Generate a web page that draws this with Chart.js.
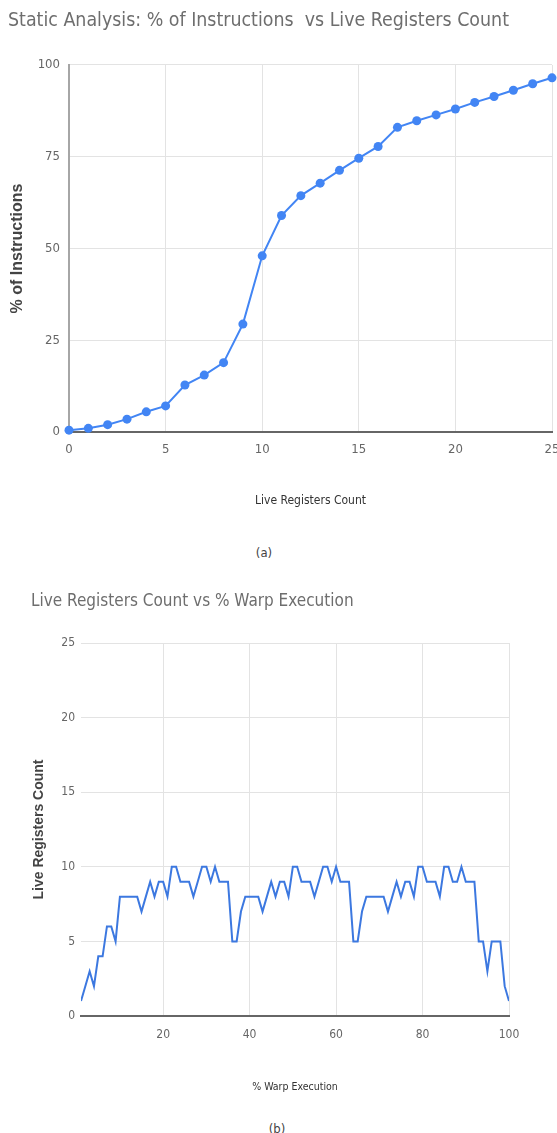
<!DOCTYPE html>
<html>
<head>
<meta charset="utf-8">
<script src="https://cdn.jsdelivr.net/npm/chart.js@4.4.1/dist/chart.umd.min.js"></script>
<style>
  html, body { margin: 0; padding: 0; background: #fff; overflow: hidden; width: 557px; height: 1133px; }
  canvas { position: absolute; left: 0; }
  #chartA { top: 0; }
  #chartB { top: 570px; }
  .caption {
    position: absolute;
    font-family: 'DejaVu Sans Condensed', sans-serif;
    font-size: 13px;
    color: #444;
    transform: translate(-50%, -50%);
  }
</style>
</head>
<body>
<canvas id="chartA" width="600" height="512"></canvas>
<div class="caption" style="left:264px; top:552px">(a)</div>
<canvas id="chartB" width="557" height="528"></canvas>
<div class="caption" style="left:277px; top:1128px">(b)</div>
<script>
// (a) static analysis
const registerCounts = [0, 1, 2, 3, 4, 5, 6, 7, 8, 9, 10, 11, 12, 13, 14, 15, 16, 17, 18, 19, 20, 21, 22, 23, 24, 25];
const instructionPct = [0.5, 1, 2, 3.5, 5.5, 7.1, 12.8, 15.5, 18.9, 29.4, 48, 59, 64.4, 67.8, 71.3, 74.6, 77.8, 83, 84.8, 86.4, 88, 89.8, 91.4, 93.1, 94.9, 96.5];
const instrXTicks = [0, 5, 10, 15, 20, 25];
const instrYTicks = [0, 25, 50, 75, 100];

// (b) live registers over warp execution
const warpPct = [
  1, 2, 3, 4, 5, 6, 7, 8, 9, 10,
  11, 12, 13, 14, 15, 16, 17, 18, 19, 20,
  21, 22, 23, 24, 25, 26, 27, 28, 29, 30,
  31, 32, 33, 34, 35, 36, 37, 38, 39, 40,
  41, 42, 43, 44, 45, 46, 47, 48, 49, 50,
  51, 52, 53, 54, 55, 56, 57, 58, 59, 60,
  61, 62, 63, 64, 65, 66, 67, 68, 69, 70,
  71, 72, 73, 74, 75, 76, 77, 78, 79, 80,
  81, 82, 83, 84, 85, 86, 87, 88, 89, 90,
  91, 92, 93, 94, 95, 96, 97, 98, 99, 100
];
const liveRegs = [
  1, 2, 3, 2, 4, 4, 6, 6, 5, 8,
  8, 8, 8, 8, 7, 8, 9, 8, 9, 9,
  8, 10, 10, 9, 9, 9, 8, 9, 10, 10,
  9, 10, 9, 9, 9, 5, 5, 7, 8, 8,
  8, 8, 7, 8, 9, 8, 9, 9, 8, 10,
  10, 9, 9, 9, 8, 9, 10, 10, 9, 10,
  9, 9, 9, 5, 5, 7, 8, 8, 8, 8,
  8, 7, 8, 9, 8, 9, 9, 8, 10, 10,
  9, 9, 9, 8, 10, 10, 9, 9, 10, 9,
  9, 9, 5, 5, 3, 5, 5, 5, 2, 1
];
const warpXTicks = [20, 40, 60, 80, 100];
const warpYTicks = [0, 5, 10, 15, 20, 25];

const NARROW = "'DejaVu Sans Condensed', sans-serif";
const WIDE = "'Liberation Sans', Arial, sans-serif";
const BLUE = '#4285f4';
const GRID = '#e3e3e3';

const setTicks = (values) => (scale) => {
  scale.ticks = values.map(v => ({ value: v }));
};

// Chart (a)
new Chart(document.getElementById('chartA'), {
  type: 'line',
  data: {
    datasets: [{
      data: registerCounts.map((x, i) => ({ x: x, y: instructionPct[i] })),
      borderColor: BLUE,
      backgroundColor: BLUE,
      borderWidth: 2,
      pointRadius: 4.5,
      pointBorderWidth: 0,
      pointBackgroundColor: BLUE,
      tension: 0,
      clip: false
    }]
  },
  options: {
    responsive: false,
    animation: false,
    devicePixelRatio: 1,
    layout: { padding: { left: 8, right: 48, top: 0, bottom: 0 } },
    plugins: {
      legend: { display: false },
      tooltip: { enabled: false },
      title: {
        display: true,
        text: 'Static Analysis: % of Instructions  vs Live Registers Count',
        align: 'start',
        color: '#6e6e6e',
        font: { family: NARROW, size: 19.4, weight: 'normal' },
        padding: { top: 9, bottom: 32.7 }
      }
    },
    scales: {
      x: {
        type: 'linear',
        min: 0,
        max: 25,
        afterBuildTicks: setTicks(instrXTicks),
        afterFit: (s) => { s.height = 80; },
        grid: { color: GRID, drawTicks: false },
        border: { display: true, color: '#666', width: 2 },
        ticks: { padding: 10, color: '#666', maxRotation: 0, font: { family: NARROW, size: 13 } },
        title: {
          display: true,
          text: 'Live Registers Count',
          color: '#333',
          font: { family: NARROW, size: 12 },
          padding: { top: 4, bottom: 4 }
        }
      },
      y: {
        min: 0,
        max: 100,
        afterBuildTicks: setTicks(instrYTicks),
        afterFit: (s) => { s.width = 61; },
        grid: { color: GRID, drawTicks: false },
        border: { display: true, color: '#a6a6a6', width: 2 },
        ticks: { padding: 9, color: '#666', font: { family: NARROW, size: 13 } },
        title: {
          display: true,
          text: '% of Instructions',
          color: '#444',
          font: { family: WIDE, size: 16, weight: 'bold' },
          padding: 0
        }
      }
    }
  }
});

// Chart (b)
new Chart(document.getElementById('chartB'), {
  type: 'line',
  data: {
    datasets: [{
      data: warpPct.map((x, i) => ({ x: x, y: liveRegs[i] })),
      borderColor: '#3c78e0',
      borderWidth: 2,
      pointRadius: 0,
      tension: 0
    }]
  },
  options: {
    responsive: false,
    animation: false,
    devicePixelRatio: 1,
    layout: { padding: { left: 31, right: 48, top: 0, bottom: 0 } },
    plugins: {
      legend: { display: false },
      tooltip: { enabled: false },
      title: {
        display: true,
        text: 'Live Registers Count vs % Warp Execution',
        align: 'start',
        color: '#6e6e6e',
        font: { family: NARROW, size: 17, weight: 'normal' },
        padding: { top: 21.8, bottom: 30.8 }
      }
    },
    scales: {
      x: {
        type: 'linear',
        min: 1,
        max: 100,
        afterBuildTicks: setTicks(warpXTicks),
        afterFit: (s) => { s.height = 82; },
        grid: { color: GRID, drawTicks: false },
        border: { display: true, color: '#666', width: 2 },
        ticks: { padding: 12, color: '#666', maxRotation: 0, font: { family: NARROW, size: 12 } },
        title: {
          display: true,
          text: '% Warp Execution',
          color: '#333',
          font: { family: NARROW, size: 10.5 },
          padding: { top: 4, bottom: 4 }
        }
      },
      y: {
        min: 0,
        max: 25,
        afterBuildTicks: setTicks(warpYTicks),
        afterFit: (s) => { s.width = 50; },
        grid: { color: GRID, drawTicks: false },
        border: { display: false },
        ticks: { padding: 6, color: '#666', font: { family: NARROW, size: 12 } },
        title: {
          display: true,
          text: 'Live Registers Count',
          color: '#444',
          font: { family: WIDE, size: 14, weight: 'bold' },
          padding: 0
        }
      }
    }
  }
});
</script>
</body>
</html>
